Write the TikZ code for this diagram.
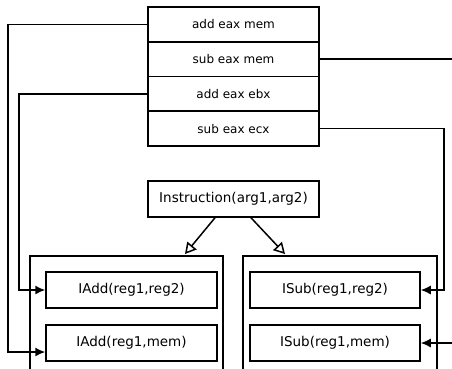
\documentclass[tikz,border=0pt]{standalone}
\usepackage{fontspec}
\setmainfont{DejaVu Sans}
\usetikzlibrary{arrows.meta}
\begin{document}
\begin{tikzpicture}[x=1pt,y=-1pt,
  box/.style={draw,line width=1.5pt,minimum width=171pt,minimum height=36pt,inner sep=0pt,font=\fontsize{13.5}{15}\selectfont},
  row/.style={draw,line width=1.5pt,minimum width=171pt,minimum height=34.75pt,inner sep=0pt,font=\fontsize{12}{14}\selectfont},
  conn/.style={line width=1.5pt,-{Latex[length=10pt,width=9pt]}},
  inh/.style={line width=1.5pt,-{Triangle[open,length=11pt,width=12pt]}},
  cont/.style={line width=1.5pt}]
\clip (0,0) rectangle (452,368);
\node[row] (r1) at (233.5,24.4) {add eax mem};
\node[row] (r2) at (233.5,59.1) {sub eax mem};
\node[row] (r3) at (233.5,93.9) {add eax ebx};
\node[row] (r4) at (233.5,128.6) {sub eax ecx};
\node[box] (instr) at (233.5,199) {Instruction(arg1,arg2)};
\draw[cont] (30,256) rectangle (223,380);
\draw[cont] (243,256) rectangle (437,380);
\node[box] (iadd1) at (131.5,290) {IAdd(reg1,reg2)};
\node[box] (iadd2) at (131.5,343) {IAdd(reg1,mem)};
\node[box,minimum width=170pt] (isub1) at (335,290) {ISub(reg1,reg2)};
\node[box,minimum width=170pt] (isub2) at (335,343) {ISub(reg1,mem)};
\coordinate (L1) at (8,200);
\coordinate (L2) at (19,200);
\coordinate (R3) at (470,200);
\coordinate (R4) at (444,200);
\coordinate (t1) at (185,254);
\coordinate (t2) at (285,254);
\draw[conn] (r1.west) -| (L1) |- ([yshift=-9pt]iadd2.west);
\draw[conn] (r3.west) -| (L2) |- (iadd1.west);
\draw[conn] (r2.east) -| (R3) |- (isub2.east);
\draw[conn] (r4.east) -| (R4) |- (isub1.east);
\draw[inh] ([xshift=-18.5pt]instr.south) -- (t1);
\draw[inh] ([xshift=17.5pt]instr.south) -- (t2);
\end{tikzpicture}
\end{document}
